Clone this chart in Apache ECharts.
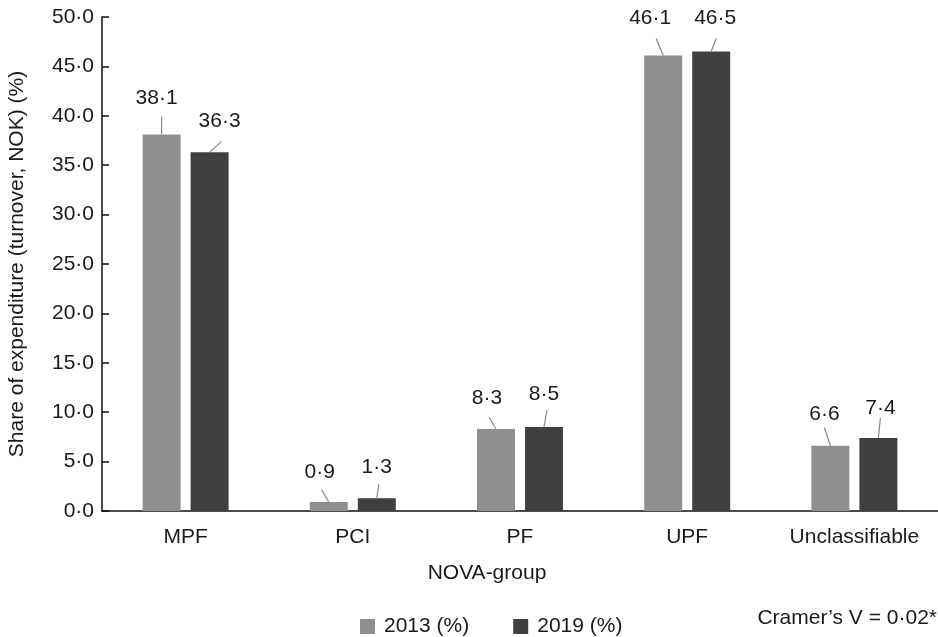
<!DOCTYPE html>
<html>
<head>
<meta charset="utf-8">
<script src="https://cdn.jsdelivr.net/npm/echarts@6/dist/echarts.min.js"></script>
<style>html,body{margin:0;padding:0;background:#fff}#c{width:938px;height:637px}</style>
</head>
<body>
<div id="c"></div>
<script>
var categories = ['MPF', 'PCI', 'PF', 'UPF', 'Unclassifiable'];
var seriesNames = ['2013 (%)', '2019 (%)'];
var values2013 = [38.1, 0.9, 8.3, 46.1, 6.6];
var values2019 = [36.3, 1.3, 8.5, 46.5, 7.4];
var yTicks = [0, 5, 10, 15, 20, 25, 30, 35, 40, 45, 50];
var footnote = 'Cramer\u2019s V = 0\u00b702*';

// layout only: label offsets and leader-line vectors (pixels)
var labelOff2013 = [[-5, -21], [-9, -14], [-9, -15], [-13, -22], [-6, -16]];
var labelOff2019 = [[10, -16], [0, -15], [0, -17], [4, -18], [2, -14]];
var lineVec2013 = [[0, -18], [-7, -12], [-7, -12], [-7, -17], [-6, -18]];
var lineVec2019 = [[12, -11], [2, -14], [3, -17], [5, -13], [2, -20]];

function fmt(v) { return v.toFixed(1).replace('.', '\u00b7'); }
var FONT = 'Liberation Sans';
var FS = 21;
var TXT = '#1a1a1a';
var BAR_W = 38, BAR_GAP = 10;

var chart = echarts.init(document.getElementById('c'), null, { renderer: 'canvas' });

function mkBar(name, vals, color, offs) {
  return {
    name: name,
    type: 'bar',
    data: vals,
    barWidth: BAR_W,
    barGap: (BAR_GAP / BAR_W * 100) + '%',
    itemStyle: { color: color },
    label: {
      show: true,
      position: 'top',
      distance: 5,
      color: TXT,
      fontFamily: FONT,
      fontSize: FS,
      formatter: function (p) { return fmt(p.value); }
    },
    labelLayout: function (p) {
      var o = offs[p.dataIndex];
      return { dx: o[0], dy: o[1] };
    },
    emphasis: { disabled: true }
  };
}

function mkLines(vals, side, vecs) {
  return {
    type: 'custom',
    silent: true,
    z: 5,
    encode: { x: 0, y: 1 },
    data: vals.map(function (v, i) { return [i, v]; }),
    renderItem: function (params, api) {
      var i = api.value(0), v = api.value(1);
      var p = api.coord([i, v]);
      var x = p[0] + side * (BAR_W + BAR_GAP) / 2;
      var d = vecs[params.dataIndex];
      return {
        type: 'line',
        shape: { x1: x, y1: p[1], x2: x + d[0], y2: p[1] + d[1] },
        style: { stroke: '#8a8a8a', lineWidth: 1.2 }
      };
    }
  };
}

chart.setOption({
  animation: false,
  textStyle: { fontFamily: FONT },
  grid: { left: 102, right: 0, top: 17, bottom: 126, containLabel: false, outerBoundsMode: 'none' },
  title: {
    text: 'NOVA-group',
    left: 487,
    top: 563,
    padding: 0,
    textAlign: 'center',
    textStyle: { fontFamily: FONT, fontSize: FS, fontWeight: 'normal', color: TXT }
  },
  legend: {
    data: seriesNames,
    left: 360,
    top: 616,
    padding: 0,
    icon: 'rect',
    itemWidth: 15,
    itemHeight: 15,
    itemGap: 44,
    textStyle: { fontFamily: FONT, fontSize: FS, color: TXT, padding: [0, 0, 0, 4] }
  },
  graphic: [{
    type: 'text',
    right: 1,
    top: 608,
    style: { text: footnote, fontFamily: FONT, fontSize: FS, fill: TXT }
  }],
  xAxis: {
    type: 'category',
    data: categories,
    axisLine: { lineStyle: { color: '#111', width: 1.5 } },
    axisTick: { show: false },
    axisLabel: { color: TXT, fontFamily: FONT, fontSize: FS, margin: 16, interval: 0, hideOverlap: false }
  },
  yAxis: {
    type: 'value',
    min: yTicks[0],
    max: yTicks[yTicks.length - 1],
    interval: 5,
    name: 'Share of expenditure (turnover, NOK) (%)',
    nameLocation: 'middle',
    nameGap: 74,
    nameTextStyle: { color: TXT, fontFamily: FONT, fontSize: FS },
    axisLine: { show: true, lineStyle: { color: '#111', width: 1.5 } },
    axisTick: { show: true, inside: true, length: 7, lineStyle: { color: '#111', width: 1.5 } },
    splitLine: { show: false },
    axisLabel: { color: TXT, fontFamily: FONT, fontSize: FS, margin: 8, formatter: function (v) { return fmt(v); } }
  },
  series: [
    mkBar(seriesNames[0], values2013, '#8f8f8f', labelOff2013),
    mkBar(seriesNames[1], values2019, '#404040', labelOff2019),
    mkLines(values2013, -1, lineVec2013),
    mkLines(values2019, 1, lineVec2019)
  ]
});
</script>
</body>
</html>
